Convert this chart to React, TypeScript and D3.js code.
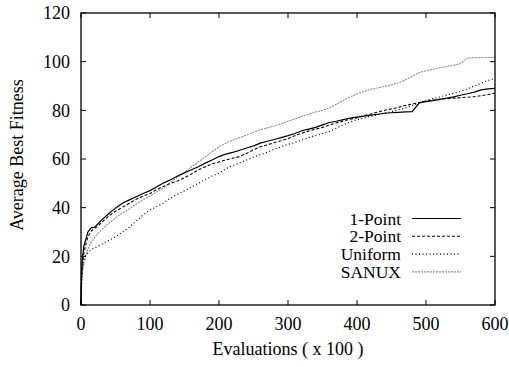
import React from "react";
import * as d3 from "d3";

const evals = [0,1,2,4,7,10,15,20,25,30,40,50,60,70,80,90,100,110,120,130,140,150,160,170,180,190,200,210,220,230,240,250,260,270,280,290,300,310,320,330,340,350,360,370,380,390,400,410,420,430,440,450,460,470,480,490,500,510,520,530,540,550,560,570,580,590,600];

const onePoint = [0,14,19,24,27,30,31.8,32,33.5,35,37.5,39.8,41.8,43.2,44.5,45.8,47,48.6,50.2,51.5,53,54.3,55.6,56.8,58.3,59.6,61,62,62.7,63.6,64.5,65.4,66.5,67.3,68,68.8,69.6,70.5,71.6,72.3,73,74,75,75.5,76.2,76.8,77.2,77.6,78,78.4,78.8,79,79.2,79.4,79.5,83,83.6,84,84.5,85,85.5,86.2,86.8,87.5,88.4,88.8,89];

const twoPoint = [0,12,16,21,25,28,30.5,31.5,32.5,34,36.5,38.5,40.2,41.8,43.5,44.8,45.8,47.5,48.8,50,51,52.3,53.8,55.5,56.8,58,58.8,59.6,60.3,61,62.3,63.8,65,65.8,66.7,67.5,68.4,69.6,70.6,71.5,72.3,73,74,74.8,75.6,76.3,77,77.8,78.5,79.3,80,80.6,81.2,82,82.6,83.2,83.8,84.2,84.5,84.8,85,85.2,85.4,85.6,86,86.5,87];

const uniform = [0,11,15,18.5,20.5,21.5,22.8,23.5,24.2,25,26.5,28,30,32,34.5,37,39,40.5,42,44,45.5,47,48.5,50,51.5,53,54.2,56,57.3,58.5,59.6,60.8,61.8,62.8,64,65,66,66.8,67.8,68.8,69.6,70.5,71.3,72.6,74,75.2,76.2,76.8,77.6,78.2,78.8,79.4,80.2,81,82,83,84,84.8,85.5,86.3,87,87.8,88.8,90,91.2,92.3,93];

const sanux = [0,10,13,17,20,23,26,28,29.5,31,33.5,35.8,37.8,39.5,41.5,43.3,44.8,46.5,48.3,50.5,52.5,54.5,56.8,58.8,60.8,63,65,66.5,67.8,68.8,69.8,71,72,72.8,73.6,74.5,75.5,76.5,77.5,78.5,79.3,80,81,82.5,84,85.5,86.8,87.8,88.6,89.2,89.8,90.5,91.3,92.5,94,95.5,96.3,96.8,97.5,98,98.5,99.2,101.5,101.6,101.7,101.7,101.8];

const seriesNames = ["1-Point", "2-Point", "Uniform", "SANUX"];
const seriesValues = [onePoint, twoPoint, uniform, sanux];
const xTicks = [0, 100, 200, 300, 400, 500, 600];
const yTicks = [0, 20, 40, 60, 80, 100, 120];

const styles = [
  { stroke: "#000", dash: "none", width: 1.2 },
  { stroke: "#000", dash: "3,2", width: 1.1 },
  { stroke: "#000", dash: "1,2.5", width: 1.2 },
  { stroke: "#8a8a8a", dash: "2,1", width: 1.1 },
];

export default function App() {
  const W = 509, H = 367;
  const left = 81, right = 495, top = 13, bottom = 305;
  const x = d3.scaleLinear().domain([0, 600]).range([left, right]);
  const y = d3.scaleLinear().domain([0, 120]).range([bottom, top]);
  const line = d3.line<number>()
    .x((_, i) => x(evals[i]))
    .y((d) => y(d));
  const font = "Liberation Serif, Times New Roman, Times, DejaVu Serif, serif";
  const fs = 18;
  const lfs = 17.5;
  const tl = 5;
  const legendX = 401, legendLine0 = 412, legendLine1 = 461;
  const legendY0 = 218.5, legendDy = 17.8;

  return (
    <svg width={W} height={H} style={{ position: "absolute", left: 0, top: 0, background: "#fff" }}>
      <rect x={0} y={0} width={W} height={H} fill="#fff" />
      {seriesValues.map((vals, i) => (
        <path key={i} d={line(vals) || ""} fill="none" stroke={styles[i].stroke}
          strokeWidth={styles[i].width} strokeDasharray={styles[i].dash} />
      )).reverse()}
      {yTicks.map((t) => (
        <g key={"y" + t}>
          <line x1={left} x2={left + tl} y1={y(t)} y2={y(t)} stroke="#000" />
          <line x1={right} x2={right - tl} y1={y(t)} y2={y(t)} stroke="#000" />
          <text x={70} y={y(t)} dy="0.35em" textAnchor="end" style={{ fontFamily: font, fontSize: fs }}>{t}</text>
        </g>
      ))}
      {xTicks.map((t) => (
        <g key={"x" + t}>
          <line x1={x(t)} x2={x(t)} y1={bottom} y2={bottom - tl} stroke="#000" />
          <line x1={x(t)} x2={x(t)} y1={top} y2={top + tl} stroke="#000" />
          <text x={x(t)} y={330} textAnchor="middle" style={{ fontFamily: font, fontSize: fs }}>{t}</text>
        </g>
      ))}
      <rect x={left} y={top} width={right - left} height={bottom - top} fill="none" stroke="#000" strokeWidth={1.3} />
      <text x={(left + right) / 2} y={355} textAnchor="middle" style={{ fontFamily: font, fontSize: fs }}>Evaluations ( x 100 )</text>
      <text transform={`translate(23,155) rotate(-90)`} textAnchor="middle" style={{ fontFamily: font, fontSize: fs }}>Average Best Fitness</text>
      {seriesNames.map((n, i) => {
        const cy = legendY0 + i * legendDy;
        return (
          <rect key={"b" + n} x={legendX - 70} y={cy - 9} width={legendLine1 - legendX + 72} height={legendDy} fill="#fff" />
        );
      })}
      {seriesNames.map((n, i) => {
        const cy = legendY0 + i * legendDy;
        return (
          <g key={"l" + n}>
            <text x={legendX} y={cy} dy="0.35em" textAnchor="end" style={{ fontFamily: font, fontSize: lfs }}>{n}</text>
            <line x1={legendLine0} x2={legendLine1} y1={cy} y2={cy} stroke={styles[i].stroke}
              strokeWidth={styles[i].width} strokeDasharray={styles[i].dash} />
          </g>
        );
      })}
    </svg>
  );
}
